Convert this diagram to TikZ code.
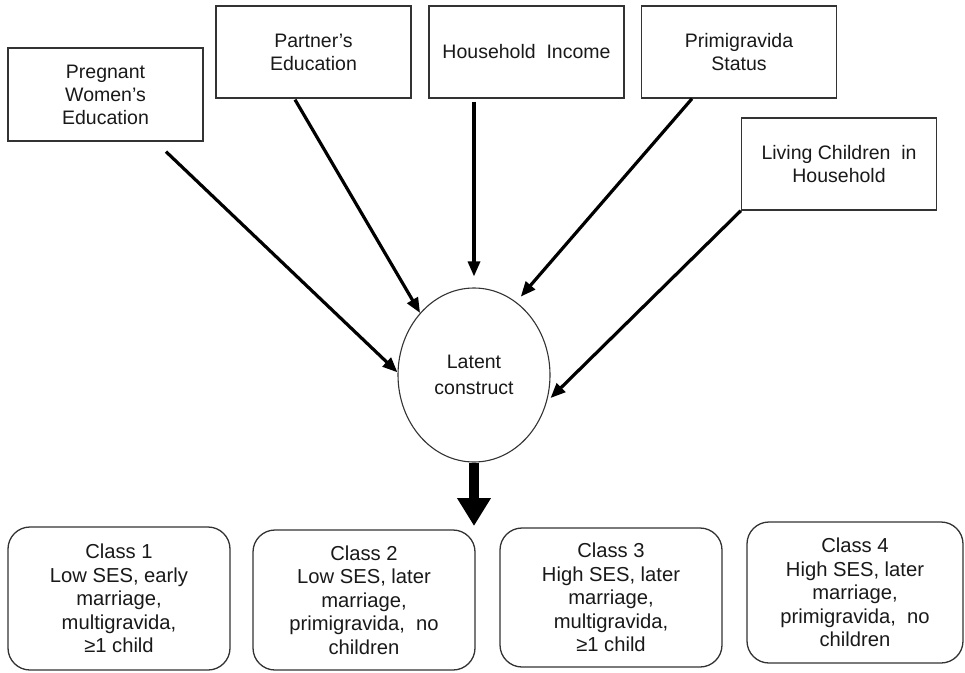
\documentclass[tikz,border=0pt]{standalone}
\usepackage{fontspec}
\setmainfont{Liberation Sans}
\usetikzlibrary{arrows.meta,shapes.geometric,calc}
\begin{document}
\begin{tikzpicture}[x=1pt,y=-1pt,
  topbox/.style={draw=black!80, line width=1.3pt, minimum width=195pt, minimum height=92pt,
    align=center, font=\fontsize{19.5}{23}\selectfont, inner sep=0pt, text=black!90},
  classbox/.style={draw=black!80, line width=1.3pt, rounded corners=22pt, minimum width=222pt,
    align=center, font=\fontsize{20.2}{23.5}\selectfont, inner sep=0pt, text=black!90},
  arr/.style={line width=3.2pt, -{Triangle[length=15pt,width=12pt]}}]
\useasboundingbox[fill=white] (0,0) rectangle (965,672);

% top boxes
\node[topbox, minimum height=93pt] (b1) at (105.5,94.5) {Pregnant\\Women's\\Education};
\node[topbox] (b2) at (313.5,52) {Partner's\\Education};
\node[topbox] (b3) at (526.5,52) {Household\ \ Income};
\node[topbox] (b4) at (739,52) {Primigravida\\Status};
\node[topbox] (b5) at (839,164) {Living Children\ \ in\\Household};

% latent construct
\node[ellipse, draw=black!80, line width=1.1pt, minimum width=152pt, minimum height=174pt,
  inner sep=0pt, align=center, font=\fontsize{19.5}{26}\selectfont, text=black!90]
  (lat) at (474,375) {Latent\\construct};

% classes
\node[classbox, minimum height=143pt] (c1) at (119,598.5) {Class 1\\Low SES, early\\marriage,\\multigravida,\\≥1 child};
\node[classbox, minimum height=140pt] (c2) at (364,600) {Class 2\\Low SES, later\\marriage,\\primigravida,\ \ no\\children};
\node[classbox, minimum height=139pt] (c3) at (611,597.5) {Class 3\\High SES, later\\marriage,\\multigravida,\\≥1 child};
\node[classbox, minimum width=216pt, minimum height=141pt] (c4) at (855,592.5) {Class 4\\High SES, later\\marriage,\\primigravida,\ \ no\\children};

\coordinate (tip) at (474,526);

% arrows
\draw[arr] ($(b1.south)+(60.5,10)$) -- (lat.178);
\draw[arr] ($(b2.south)+(-18.5,1)$) -- (lat.131);
\draw[arr, shorten >=11pt] ($(b3.south)+(-52.5,3)$) -- (lat.north);
\draw[arr, shorten >=7pt] ($(b4.south)+(-47,0)$) -- (lat.60);
\draw[arr, shorten >=5pt] (b5.south west) -- (lat.-20);
\draw[line width=10pt, -{Triangle[length=28pt,width=32pt]}] (lat.south) -- (tip);
\end{tikzpicture}
\end{document}
